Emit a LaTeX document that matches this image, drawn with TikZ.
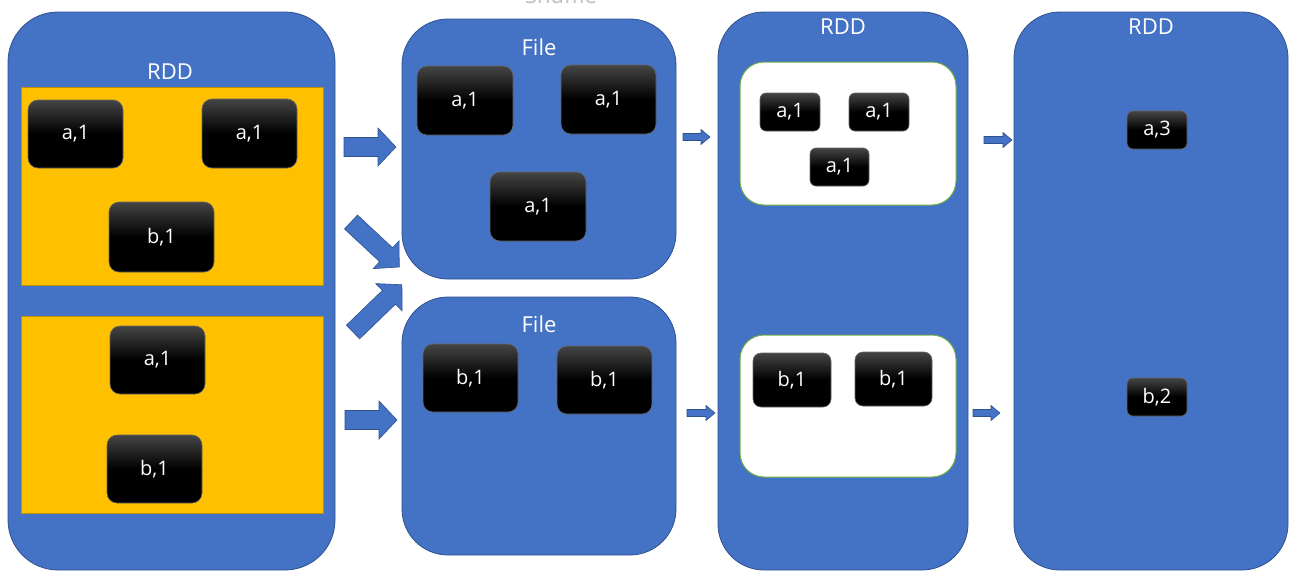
\documentclass[tikz,border=0pt]{standalone}
\usepackage{fontspec}
\setmainfont{Open Sans}
\definecolor{blu}{HTML}{4472C4}
\definecolor{bluedge}{HTML}{2F528F}
\definecolor{yel}{HTML}{FFC000}
\definecolor{yeledge}{HTML}{BF9000}
\definecolor{grn}{HTML}{70AD47}
\definecolor{keytop}{HTML}{454545}
\definecolor{shufgray}{HTML}{BFBFBF}
\tikzset{
  panel/.style={draw=bluedge, fill=blu, line width=0.8pt, rounded corners=46pt, inner sep=0pt, outer sep=0pt},
  part/.style={draw=yeledge, fill=yel, line width=0.8pt, inner sep=0pt, outer sep=0pt},
  grp/.style={draw=grn, fill=white, line width=1pt, rounded corners=24pt, inner sep=0pt, outer sep=0pt},
  key/.style={draw=black!60, line width=0.6pt, rounded corners=10pt, top color=keytop, bottom color=black, middle color=black, text=white, inner sep=0pt, font=\fontsize{20}{20}\selectfont},
  smallkey/.style={key, rounded corners=6pt},
  ttl/.style={text=white, inner sep=0pt, font=\fontsize{22}{22}\selectfont},
  arr/.style={fill=blu, draw=bluedge, line width=0.6pt},
}
% tail (#1), angle #2, length #3, body half width #4, head half width #5, head length #6
\newcommand\blockarr[6]{%
  \begin{scope}[shift={(#1)}, rotate=#2]
    \filldraw[arr] (0,-#4) -- ({#3-#6},-#4) -- ({#3-#6},-#5) -- (#3,0) -- ({#3-#6},#5) -- ({#3-#6},#4) -- (0,#4) -- cycle;
  \end{scope}}
\begin{document}
\begin{tikzpicture}[x=1pt,y=-1pt]
\useasboundingbox (0,0) rectangle (1293,579);
% top cropped title
\node[anchor=base, text=shufgray, inner sep=0pt, font=\fontsize{22}{22}\selectfont] (shuffle) at (561,3.5) {Shuffle};
% panels
\node[panel, rounded corners=50pt, minimum width=327pt, minimum height=558pt] (p1) at (171.5,291) {};
\node[panel, minimum width=274pt, minimum height=260pt] (f1) at (539,149) {};
\node[panel, minimum width=274pt, minimum height=258pt] (f2) at (539,426) {};
\node[panel, minimum width=250pt, minimum height=558pt] (p3) at (843,291) {};
\node[panel, minimum width=274pt, minimum height=558pt] (p4) at (1151,291) {};
% titles
\node[ttl] (t1) at (170,72) {RDD};
\node[ttl] (tf1) at (539,47) {File};
\node[ttl] (tf2) at (539,324) {File};
\node[ttl] (t3) at (843,27) {RDD};
\node[ttl] (t4) at (1151,27) {RDD};
% partitions
\node[part, minimum width=302pt, minimum height=198pt] (y1) at (172,186) {};
\node[part, minimum width=302pt, minimum height=197pt] (y2) at (172,414.5) {};
% groups
\node[grp, minimum width=216pt, minimum height=143pt] (g1) at (848,133.5) {};
\node[grp, minimum width=216pt, minimum height=142pt] (g2) at (848,406) {};
% keys in first RDD
\node[key, minimum width=95pt, minimum height=68pt] (k1) at (75.5,134) {a,1};
\node[key, minimum width=95pt, minimum height=69pt] (k2) at (249.5,133.5) {a,1};
\node[key, minimum width=105pt, minimum height=70pt] (k3) at (161.5,237) {b,1};
\node[key, minimum width=95pt, minimum height=68pt] (k4) at (157.5,360) {a,1};
\node[key, minimum width=95pt, minimum height=68pt] (k5) at (154.5,469) {b,1};
% keys in files
\node[key, minimum width=96pt, minimum height=69pt] (fa1) at (465,100.5) {a,1};
\node[key, minimum width=95pt, minimum height=69pt] (fa2) at (608.5,99.5) {a,1};
\node[key, minimum width=96pt, minimum height=69pt] (fa3) at (538,206.5) {a,1};
\node[key, minimum width=95pt, minimum height=68pt] (fb1) at (470.5,378) {b,1};
\node[key, minimum width=95pt, minimum height=68pt] (fb2) at (604.5,380) {b,1};
% keys in groups
\node[smallkey, minimum width=60pt, minimum height=38pt] (ga1) at (790,112) {a,1};
\node[smallkey, minimum width=60pt, minimum height=38pt] (ga2) at (879,112) {a,1};
\node[smallkey, minimum width=59pt, minimum height=38pt] (ga3) at (839.5,167) {a,1};
\node[key, rounded corners=8pt, minimum width=78pt, minimum height=54pt] (gb1) at (792,380) {b,1};
\node[key, rounded corners=8pt, minimum width=77pt, minimum height=54pt] (gb2) at (893.5,379) {b,1};
% result keys
\node[smallkey, minimum width=60pt, minimum height=38pt] (ra) at (1157,130) {a,3};
\node[smallkey, minimum width=60pt, minimum height=38pt] (rb) at (1157,397) {b,2};
% big block arrows
\blockarr{344,147}{0}{52}{9.5}{19}{18}
\blockarr{351,222}{-43}{66}{9.5}{19}{18}
\blockarr{353,332}{44}{68}{9.5}{19}{18}
\blockarr{345,420}{0}{52}{9.5}{19}{18}
% small block arrows
\blockarr{683,137}{0}{27}{3.5}{7.5}{9}
\blockarr{687,413}{0}{28}{3.5}{7.5}{9}
\blockarr{984,140}{0}{28}{3.5}{7.5}{9}
\blockarr{973,413}{0}{27}{3.5}{7.5}{9}
\end{tikzpicture}
\end{document}
